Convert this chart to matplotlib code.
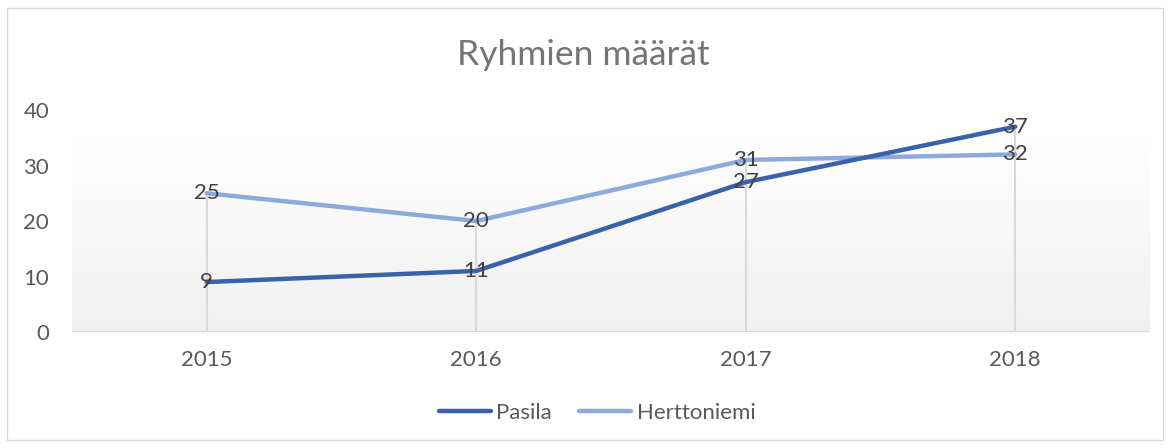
import matplotlib
matplotlib.use("Agg")
import matplotlib.pyplot as plt
import numpy as np
from matplotlib.patches import Rectangle
from matplotlib.colors import LinearSegmentedColormap

years = ["2015", "2016", "2017", "2018"]
pasila = [9, 11, 27, 37]
herttoniemi = [25, 20, 31, 32]
yticks = [0, 10, 20, 30, 40]
title = "Ryhmien määrät"

plt.rcParams['font.family'] = ['Lato', 'DejaVu Sans']
txt = '#595959'
lbl = '#404040'

fig = plt.figure(figsize=(11.72, 4.48), dpi=100)
ax = fig.add_axes([72/1172, 1-332/448, (1150-72)/1172, (332-110)/448])
x = np.arange(len(years))
ax.set_xlim(-0.5, len(years)-0.5)
ax.set_ylim(0, 40)

# gradient background
grad = np.linspace(0, 1, 256).reshape(-1, 1)
cmap = LinearSegmentedColormap.from_list('g', ['#F0F0F0', '#FFFFFF'])
ax.imshow(grad, aspect='auto', cmap=cmap, origin='lower',
          extent=[-0.5, len(years)-0.5, 0, 34.7], zorder=0)

# drop lines
for xi, a, b in zip(x, pasila, herttoniemi):
    ax.plot([xi, xi], [0, max(a, b)], color='#D9D9D9', lw=1.5, zorder=1)

l1, = ax.plot(x, pasila, color='#3A62AA', lw=3.2, solid_capstyle='round', zorder=3, label='Pasila')
l2, = ax.plot(x, herttoniemi, color='#8EA9DB', lw=3.2, solid_capstyle='round', zorder=2, label='Herttoniemi')

for xi, v in zip(x, pasila):
    ax.text(xi, v, str(v), ha='center', va='center', fontsize=16, color=lbl, zorder=4)
for xi, v in zip(x, herttoniemi):
    ax.text(xi, v, str(v), ha='center', va='center', fontsize=16, color=lbl, zorder=4)

ax.axhline(0, color='#D9D9D9', lw=1.5, zorder=1)
for s in ax.spines.values():
    s.set_visible(False)
ax.set_xticks(x)
ax.set_xticklabels(years, fontsize=16, color=txt)
ax.set_yticks(yticks)
ax.set_yticklabels([str(t) for t in yticks], fontsize=16, color=txt)
ax.tick_params(length=0)
ax.tick_params(axis='x', pad=13)
ax.tick_params(axis='y', pad=16.5)

fig.text(583/1172, 1-55/448, title, ha='center', va='center', fontsize=25.5, color='#757575')

fig.legend(handles=[l1, l2], loc='center', bbox_to_anchor=(597/1172, 1-413/448),
           ncol=2, frameon=False, fontsize=16, labelcolor=txt,
           handlelength=2.35, handletextpad=0.25, columnspacing=1.2)

fig.patches.append(Rectangle((7/1172, 1-440/448), (1163-7)/1172, (440-8)/448,
                             transform=fig.transFigure, fill=False, edgecolor='#D9D9D9', lw=1))

fig.savefig('out.png', dpi=100)
